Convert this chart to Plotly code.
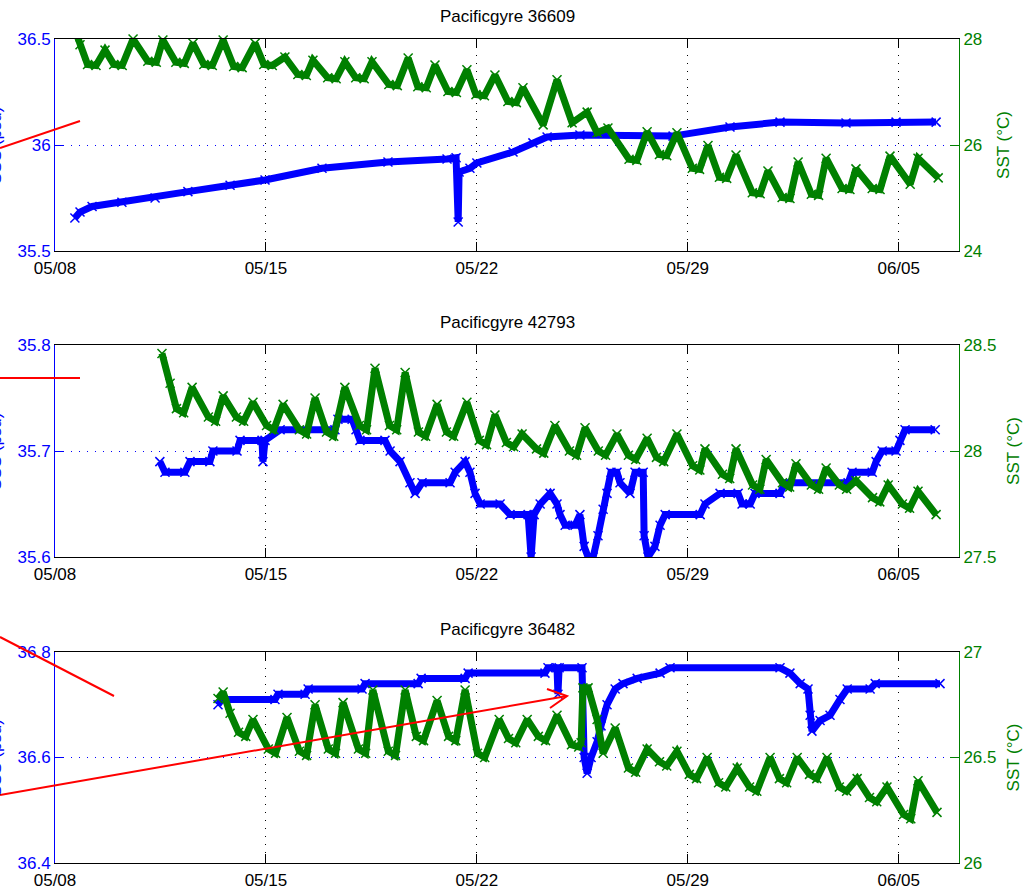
import pandas as pd
import plotly.graph_objects as go

# ---------------- data: (days after 2009-05-08 00:00, value) ----------------
BASE = pd.Timestamp("2009-05-08")
N_DAYS = 30

titles = ["Pacificgyre 36609", "Pacificgyre 42793", "Pacificgyre 36482"]
sss_label = "SSS (psu)"
sst_label = "SST (°C)"

# panel 1 : drifter 36609
p1_sss_pts = [(0.66, 35.656), (0.83, 35.684), (1.23, 35.71), (2.22, 35.73), (3.32, 35.75),
              (4.41, 35.78), (5.81, 35.81), (6.97, 35.835), (8.86, 35.89), (11.05, 35.92),
              (13.01, 35.934), (13.31, 35.94), (13.38, 35.637), (13.41, 35.873), (13.77, 35.89),
              (14.0, 35.915), (15.2, 35.967), (15.86, 36.01), (16.33, 36.038), (17.42, 36.047),
              (20.51, 36.042), (22.40, 36.085), (24.06, 36.108), (26.25, 36.104), (27.91, 36.108),
              (29.24, 36.108)]
p1_sst_pts = [(0.69, 28.13), (0.83, 27.89), (1.08, 27.52), (1.36, 27.50), (1.66, 27.79),
              (1.95, 27.52), (2.23, 27.50), (2.59, 28.00), (3.08, 27.58), (3.36, 27.56),
              (3.58, 27.98), (4.01, 27.56), (4.29, 27.54), (4.58, 27.92), (4.94, 27.52),
              (5.22, 27.50), (5.58, 27.98), (5.93, 27.48), (6.21, 27.46), (6.64, 27.92),
              (6.93, 27.52), (7.21, 27.50), (7.63, 27.66), (8.06, 27.33), (8.34, 27.31),
              (8.56, 27.60), (9.05, 27.27), (9.33, 27.25), (9.62, 27.57), (9.98, 27.27),
              (10.26, 27.25), (10.52, 27.57), (11.08, 27.14), (11.36, 27.12), (11.72, 27.64),
              (12.04, 27.10), (12.32, 27.08), (12.61, 27.51), (13.04, 27.01), (13.32, 26.99),
              (13.67, 27.42), (13.97, 26.95), (14.25, 26.93), (14.60, 27.32), (15.03, 26.82),
              (15.31, 26.80), (15.53, 27.08), (16.20, 26.38), (16.66, 27.23), (17.16, 26.42),
              (17.66, 26.62), (17.99, 26.23), (18.35, 26.32), (19.05, 25.73), (19.31, 25.71),
              (19.65, 26.25), (20.06, 25.82), (20.30, 25.80), (20.64, 26.23), (21.15, 25.56),
              (21.39, 25.54), (21.67, 25.99), (22.05, 25.39), (22.29, 25.37), (22.60, 25.81),
              (23.14, 25.10), (23.40, 25.08), (23.66, 25.51), (24.13, 25.01), (24.39, 24.99),
              (24.66, 25.68), (25.10, 25.07), (25.34, 25.05), (25.59, 25.75), (26.12, 25.18),
              (26.38, 25.16), (26.58, 25.55), (27.12, 25.18), (27.38, 25.16), (27.71, 25.79),
              (28.38, 25.26), (28.64, 25.75), (29.31, 25.38)]

# panel 2 : drifter 42793
p2_sss_pts = [(3.48, 35.69), (3.65, 35.68), (4.31, 35.68), (4.48, 35.69), (5.14, 35.69),
              (5.24, 35.70), (6.04, 35.70), (6.14, 35.71), (6.87, 35.71), (6.90, 35.69),
              (6.97, 35.71), (7.47, 35.72), (9.29, 35.72), (9.39, 35.73), (9.86, 35.73),
              (9.99, 35.72), (10.12, 35.71), (10.95, 35.71), (11.12, 35.70), (11.45, 35.69),
              (11.78, 35.67), (11.95, 35.66), (12.18, 35.67), (13.11, 35.67), (13.28, 35.68),
              (13.61, 35.69), (13.77, 35.68), (13.94, 35.66), (14.11, 35.65), (14.77, 35.65),
              (15.10, 35.64), (15.70, 35.64), (15.80, 35.60), (15.90, 35.64), (16.10, 35.65),
              (16.43, 35.66), (16.66, 35.65), (16.76, 35.64), (16.93, 35.63), (17.26, 35.63),
              (17.42, 35.64), (17.56, 35.61), (17.69, 35.60), (17.86, 35.60), (18.02, 35.62),
              (18.19, 35.645), (18.32, 35.66), (18.45, 35.68), (18.65, 35.68), (18.75, 35.67),
              (19.08, 35.66), (19.25, 35.68), (19.52, 35.68), (19.55, 35.62), (19.68, 35.60),
              (19.91, 35.61), (20.08, 35.63), (20.25, 35.64), (21.41, 35.64), (21.57, 35.65),
              (22.07, 35.66), (22.67, 35.66), (22.80, 35.65), (23.07, 35.65), (23.23, 35.66),
              (24.06, 35.66), (24.23, 35.67), (26.32, 35.67), (26.45, 35.68), (27.12, 35.68),
              (27.25, 35.69), (27.45, 35.70), (27.91, 35.70), (28.04, 35.71), (28.21, 35.72),
              (29.21, 35.72)]
p2_sst_pts = [(3.55, 28.46), (3.82, 28.32), (4.03, 28.20), (4.27, 28.18), (4.55, 28.30),
              (5.09, 28.16), (5.33, 28.14), (5.58, 28.26), (6.02, 28.16), (6.26, 28.14),
              (6.57, 28.23), (7.02, 28.12), (7.26, 28.10), (7.57, 28.22), (8.11, 28.10),
              (8.35, 28.08), (8.63, 28.25), (9.01, 28.09), (9.25, 28.07), (9.62, 28.30),
              (10.10, 28.12), (10.34, 28.10), (10.62, 28.39), (11.10, 28.12), (11.34, 28.10),
              (11.62, 28.37), (12.06, 28.09), (12.30, 28.07), (12.68, 28.22), (12.99, 28.09),
              (13.23, 28.07), (13.67, 28.23), (14.08, 28.05), (14.32, 28.03), (14.60, 28.17),
              (14.98, 28.04), (15.22, 28.02), (15.50, 28.08), (15.98, 28.01), (16.22, 27.99),
              (16.59, 28.12), (17.07, 28.00), (17.31, 27.98), (17.59, 28.11), (18.03, 28.00),
              (18.27, 27.98), (18.65, 28.08), (19.03, 27.98), (19.27, 27.96), (19.65, 28.06),
              (19.96, 27.97), (20.20, 27.95), (20.64, 28.08), (21.16, 27.93), (21.40, 27.91),
              (21.57, 28.01), (22.15, 27.89), (22.39, 27.87), (22.60, 28.01), (23.15, 27.84),
              (23.39, 27.82), (23.60, 27.96), (24.14, 27.85), (24.38, 27.83), (24.59, 27.94),
              (25.10, 27.84), (25.34, 27.82), (25.59, 27.92), (26.03, 27.84), (26.27, 27.82),
              (26.58, 27.86), (27.13, 27.78), (27.37, 27.76), (27.65, 27.84), (28.12, 27.75),
              (28.36, 27.73), (28.64, 27.81), (29.24, 27.70)]

# panel 3 : drifter 36482
p3_sss_pts = [(5.41, 36.70), (5.54, 36.71), (7.30, 36.71), (7.40, 36.72), (8.30, 36.72),
              (8.40, 36.73), (10.19, 36.73), (10.29, 36.74), (12.05, 36.74), (12.15, 36.75),
              (13.61, 36.75), (13.71, 36.76), (16.26, 36.76), (16.36, 36.77), (16.66, 36.77),
              (16.69, 36.72), (16.73, 36.77), (17.49, 36.77), (17.56, 36.60), (17.66, 36.57),
              (17.79, 36.60), (17.99, 36.63), (18.12, 36.66), (18.32, 36.70), (18.59, 36.73),
              (18.85, 36.74), (19.32, 36.75), (20.08, 36.76), (20.41, 36.77), (24.06, 36.77),
              (24.39, 36.76), (24.73, 36.74), (24.99, 36.73), (25.06, 36.68), (25.12, 36.65),
              (25.39, 36.67), (25.72, 36.68), (26.05, 36.71), (26.29, 36.73), (27.05, 36.73),
              (27.22, 36.74), (29.37, 36.74)]
p3_sst_pts = [(5.41, 26.78), (5.58, 26.81), (5.81, 26.71), (6.09, 26.62), (6.33, 26.60),
              (6.57, 26.68), (7.08, 26.54), (7.32, 26.52), (7.70, 26.69), (8.11, 26.53),
              (8.35, 26.51), (8.63, 26.75), (9.07, 26.54), (9.31, 26.52), (9.56, 26.76),
              (10.07, 26.54), (10.31, 26.52), (10.55, 26.82), (11.06, 26.53), (11.30, 26.51),
              (11.62, 26.82), (11.99, 26.60), (12.23, 26.58), (12.68, 26.77), (13.06, 26.60),
              (13.30, 26.58), (13.61, 26.82), (14.02, 26.52), (14.26, 26.50), (14.74, 26.68),
              (15.05, 26.59), (15.29, 26.57), (15.67, 26.68), (16.04, 26.60), (16.28, 26.58),
              (16.66, 26.70), (17.14, 26.56), (17.38, 26.55), (17.46, 26.57), (17.52, 26.83),
              (17.69, 26.83), (17.99, 26.68), (18.19, 26.52), (18.59, 26.64), (19.03, 26.45),
              (19.27, 26.43), (19.65, 26.54), (20.06, 26.48), (20.30, 26.46), (20.64, 26.53),
              (21.05, 26.42), (21.29, 26.40), (21.64, 26.50), (22.02, 26.38), (22.26, 26.36),
              (22.64, 26.45), (23.05, 26.36), (23.29, 26.34), (23.73, 26.50), (24.04, 26.40),
              (24.28, 26.38), (24.63, 26.50), (25.04, 26.42), (25.28, 26.40), (25.62, 26.50),
              (26.03, 26.36), (26.27, 26.34), (26.62, 26.40), (27.03, 26.31), (27.27, 26.29),
              (27.61, 26.36), (28.16, 26.23), (28.40, 26.21), (28.64, 26.39), (29.27, 26.24)]

sss_ranges = [[35.5, 36.5], [35.6, 35.8], [36.4, 36.8]]
sss_dticks = [0.5, 0.1, 0.2]
sst_ranges = [[24, 28], [27.5, 28.5], [26, 27]]
sst_dticks = [2, 0.5, 0.5]

panels = [(p1_sss_pts, p1_sst_pts), (p2_sss_pts, p2_sst_pts), (p3_sss_pts, p3_sst_pts)]

# ---------------- figure ----------------
W, H = 1023, 892
ML, MR, MT, MB = 55, 64, 39, 29
PW, PH = W - ML - MR, H - MT - MB

def px(x):
    return (x - ML) / PW

def py(y):
    return (H - MB - y) / PH

boxes = [(39, 251), (345, 557), (652, 863)]
title_y = [17, 323, 629]

BLUE = "#0000FF"
GREEN = "#008000"
FONT = "Liberation Sans, Arial, Helvetica, sans-serif"
FS = 17

def to_time(days):
    return BASE + pd.to_timedelta(list(days), unit="D")

fig = go.Figure()
layout = dict(
    width=W, height=H, autosize=False,
    margin=dict(l=ML, r=MR, t=MT, b=MB, autoexpand=False),
    paper_bgcolor="white", plot_bgcolor="white",
    font=dict(family=FONT, size=FS, color="black"),
    showlegend=False,
    hovermode=False,
)

annotations = []
for i, (sss_pts, sst_pts) in enumerate(panels):
    n = i + 1
    xa = "x" if n == 1 else f"x{n}"
    yl = 2 * i + 1
    yr = 2 * i + 2
    yl_name = "y" if yl == 1 else f"y{yl}"
    yr_name = f"y{yr}"
    top, bot = boxes[i]
    dom = [py(bot), py(top)]
    sd, sv = zip(*sss_pts)
    td, tv = zip(*sst_pts)

    fig.add_trace(go.Scatter(
        x=to_time(sd), y=list(sv), xaxis=xa, yaxis=yl_name, mode="lines+markers",
        line=dict(color=BLUE, width=7),
        marker=dict(symbol="x-thin", size=9, color=BLUE, line=dict(color=BLUE, width=1.5)),
    ))
    fig.add_trace(go.Scatter(
        x=to_time(td), y=list(tv), xaxis=xa, yaxis=yr_name, mode="lines+markers",
        line=dict(color=GREEN, width=7), cliponaxis=False,
        marker=dict(symbol="x-thin", size=9, color=GREEN, line=dict(color=GREEN, width=1.5)),
    ))

    layout["xaxis" if n == 1 else f"xaxis{n}"] = dict(
        domain=[0, 1], anchor=yl_name, type="date", automargin=False,
        range=[BASE, BASE + pd.Timedelta(days=N_DAYS)],
        tick0=BASE, dtick=7 * 86400000, tickformat="%m/%d",
        ticks="inside", ticklen=9, tickcolor="black", tickwidth=1,
        showline=True, linecolor="black", linewidth=1, mirror="ticks",
        showgrid=True, gridcolor="black", gridwidth=1, griddash="1px,7px",
        zeroline=False, tickfont=dict(size=FS, color="black"),
        ticklabelstandoff=2,
    )
    layout["yaxis" if yl == 1 else f"yaxis{yl}"] = dict(
        domain=dom, anchor=xa, range=sss_ranges[i], automargin=False,
        tick0=sss_ranges[i][0], dtick=sss_dticks[i],
        ticks="inside", ticklen=9, tickcolor=BLUE,
        showline=True, linecolor=BLUE, linewidth=1, mirror=False,
        showgrid=True, gridcolor=BLUE, gridwidth=1, griddash="1px,7px",
        zeroline=False, tickfont=dict(size=FS, color=BLUE),
    )
    layout[f"yaxis{yr}"] = dict(
        overlaying=yl_name, side="right", anchor=xa, range=sst_ranges[i], automargin=False,
        tick0=sst_ranges[i][0], dtick=sst_dticks[i],
        ticks="inside", ticklen=9, tickcolor=GREEN,
        showline=True, linecolor=GREEN, linewidth=1,
        showgrid=False, zeroline=False,
        tickfont=dict(size=FS, color=GREEN),
        title=dict(text=sst_label, font=dict(size=FS, color=GREEN)),
    )
    annotations.append(dict(
        text=titles[i], xref="paper", yref="paper", x=0.5, y=py(title_y[i]),
        xanchor="center", yanchor="middle", showarrow=False,
        font=dict(size=FS, color="black"),
    ))
    annotations.append(dict(
        text=sss_label, xref="paper", yref="paper", x=px(-5), y=py((top + bot) / 2),
        xanchor="center", yanchor="middle", showarrow=False, textangle=-90,
        font=dict(size=FS, color=BLUE),
    ))

red = dict(color="#FF0000", width=2)
shapes = [
    dict(type="line", xref="paper", yref="paper", x0=px(0), y0=py(148), x1=px(80), y1=py(121), line=red),
    dict(type="line", xref="paper", yref="paper", x0=px(0), y0=py(378), x1=px(80), y1=py(378), line=red),
    dict(type="line", xref="paper", yref="paper", x0=px(0), y0=py(637), x1=px(114), y1=py(696), line=red),
    dict(type="line", xref="paper", yref="paper", x0=px(0), y0=py(795), x1=px(567), y1=py(696), line=red),
    dict(type="path", xref="paper", yref="paper", line=red,
         path=f"M {px(547)} {py(689)} L {px(567)} {py(696)} L {px(550)} {py(708)}"),
]

layout["annotations"] = annotations
layout["shapes"] = shapes
fig.update_layout(**layout)

fig.write_html("out.html", config={"displayModeBar": False},
               post_script="document.body.style.margin='0';document.body.style.overflow='hidden';")
